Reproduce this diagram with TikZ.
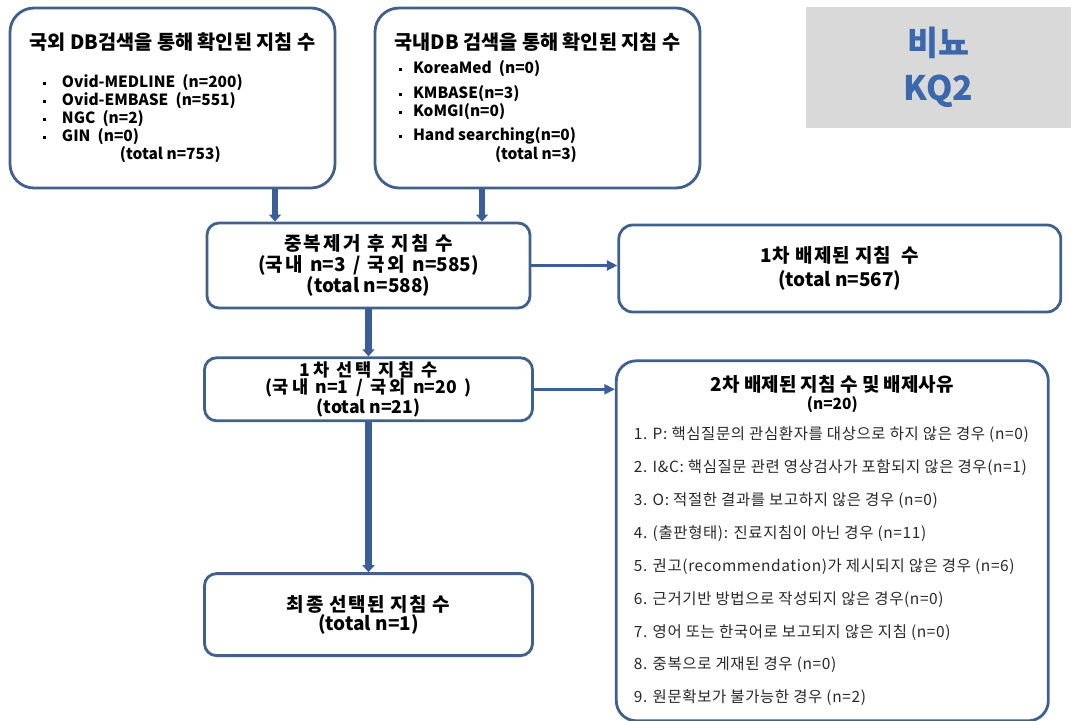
\documentclass[tikz,border=0pt]{standalone}
\usepackage{fontspec}
\setmainfont{Noto Sans CJK KR}
\usepackage{tikz}
\usetikzlibrary{positioning,arrows.meta}
\definecolor{borda}{RGB}{65,97,140}
\definecolor{azulseta}{RGB}{59,94,150}
\definecolor{azulrotulo}{RGB}{59,104,172}
\definecolor{cinza}{RGB}{217,217,217}
\definecolor{textoitem}{RGB}{40,40,40}
\newcommand{\marcador}{\raisebox{0.3ex}{\rule{2.2pt}{2.2pt}}}
\newcommand{\espacado}[2]{{\addfontfeature{LetterSpace=#1}#2}}
\newcommand{\palavras}[2]{{\spaceskip=#1em\relax #2}}
\tikzstyle{busca} = [rectangle, rounded corners=0.6cm, minimum width=8.125cm, minimum height=4.5cm, draw=borda, line width=2pt, fill=white, inner sep=0pt]
\tikzstyle{etapa} = [rectangle, rounded corners=0.3cm, draw=borda, line width=2pt, align=center, inner sep=0pt]
\tikzstyle{exclusao} = [rectangle, rounded corners=0.35cm, draw=borda, line width=2pt, inner sep=0pt]
\tikzstyle{seta} = [line width=4.3pt, draw=azulseta, -{Triangle[length=5pt,width=8.5pt]}]
\tikzstyle{setafina} = [line width=2pt, draw=azulseta, -{Triangle[length=7.5pt,width=7pt]}]

\begin{document}
\begin{tikzpicture}
        \useasboundingbox (0,0) rectangle (26.775,-18.025);
        % Rótulo da questão-chave
        \node (rotulo) [fill=cinza, minimum width=6.625cm, minimum height=3.025cm, align=center, text=azulrotulo, font=\fontsize{24}{32}\selectfont\bfseries] at (23.4625,-1.6875) {비뇨\\KQ2};
        % Buscas nas bases de dados
        \node (externo) [busca] at (4.3125,-2.45) {\parbox{7.275cm}{\lineskiplimit=-\maxdimen\parskip=0pt\bfseries
            {\centering\fontsize{14}{14}\selectfont 국외 DB검색을 통해 확인된 지침 수\par}
            \raggedright\fontsize{11}{12.8}\selectfont\vspace{14.2pt}
            \hspace*{0.4cm}\makebox[0.475cm][l]{\marcador}Ovid-MEDLINE~~(n=200)\par
            \hspace*{0.4cm}\makebox[0.475cm][l]{\marcador}Ovid-EMBASE~~(n=551)\par
            \hspace*{0.4cm}\makebox[0.475cm][l]{\marcador}NGC~~(n=2)\par
            \hspace*{0.4cm}\makebox[0.475cm][l]{\marcador}GIN~~(n=0)\par
            \hspace*{2.325cm}(total n=753)\par}};
        \node (interno) [busca] at (13.4375,-2.45) {\parbox{7.275cm}{\lineskiplimit=-\maxdimen\parskip=0pt\bfseries
            {\centering\fontsize{14}{14}\selectfont 국내DB 검색을 통해 확인된 지침 수\par}
            \raggedright\fontsize{11}{12.8}\selectfont\vspace{4.2pt}
            \hspace*{0.175cm}\makebox[0.35cm][l]{\marcador}KoreaMed~~(n=0)\par\vspace{5pt}
            \hspace*{0.175cm}\makebox[0.35cm][l]{\marcador}KMBASE(n=3)\par
            \hspace*{0.175cm}\makebox[0.35cm][l]{\marcador}KoMGI(n=0)\par\vspace{4.3pt}
            \hspace*{0.175cm}\makebox[0.35cm][l]{\marcador}Hand~searching(n=0)\par\vspace{0.7pt}
            \hspace*{2.575cm}(total n=3)\par}};
        % Etapas de seleção
        \node (duplicados) [etapa, minimum width=8.075cm, minimum height=2.125cm, font=\fontsize{13.5}{15}\selectfont\bfseries] at (9.2125,-6.6375) {\palavras{0.34}{\espacado{13}{중복제거 후 지침 수}}\\\palavras{0.38}{(\espacado{14}{국내} n=3 / \espacado{14}{국외} n=585)}\\(total n=588)};
        \node (excluidos1) [exclusao, minimum width=11.05cm, minimum height=2.175cm, align=center, font=\fontsize{13.5}{17.5}\selectfont\bfseries, right=2.15cm of duplicados, yshift=-0.075cm] {\espacado{5}{1차 배제된 지침~~수}\\(total n=567)};
        \node (selecionados1) [etapa, minimum width=8.2cm, minimum height=1.575cm, font=\fontsize{12.5}{12.4}\selectfont\bfseries, below=1.175cm of duplicados] {\palavras{0.4}{\espacado{18}{1차 선택 지침 수}}\\\palavras{0.42}{(\espacado{18}{국내} n=1 / \espacado{18}{국외} n=20 )}\\(total n=21)};
        \node (excluidos2) [exclusao, rounded corners=0.5cm, minimum width=10.8cm, minimum height=9cm, below right=0.075cm and 2.025cm of selecionados1.north east] {\parbox{9.925cm}{\lineskiplimit=-\maxdimen\parskip=0pt
            {\centering\fontsize{13.5}{12}\selectfont\bfseries 2차 배제된 지침 수 및 배제사유\par}
            {\centering\fontsize{11}{12.8}\selectfont\bfseries (n=20)\par}
            \raggedright\fontsize{11}{23.4}\selectfont\addfontfeature{LetterSpace=4}\color{textoitem}\vspace{-2.1pt}
            1. P: 핵심질문의 관심환자를 대상으로 하지 않은 경우 (n=0)\par
            2. I\&C: 핵심질문 관련 영상검사가 포함되지 않은 경우(n=1)\par
            3. O: 적절한 결과를 보고하지 않은 경우 (n=0)\par
            4. (출판형태): 진료지침이 아닌 경우 (n=11)\par
            5. 권고(recommendation)가 제시되지 않은 경우 (n=6)\par
            6. 근거기반 방법으로 작성되지 않은 경우(n=0)\par
            7. 영어 또는 한국어로 보고되지 않은 지침 (n=0)\par
            8. 중복으로 게재된 경우 (n=0)\par
            9. 원문확보가 불가능한 경우 (n=2)\par}};
        \node (final) [etapa, minimum width=8.2cm, minimum height=2.05cm, font=\fontsize{13.5}{13.5}\selectfont\bfseries, below=3.75cm of selecionados1] {\palavras{0.29}{\espacado{9}{최종 선택된 지침 수}}\\(total n=1)};
        % Conexões
        \coordinate (saidaext) at ([xshift=2.5625cm]externo.south);
        \coordinate (saidaint) at ([xshift=-1.3875cm]interno.south);
        \draw [seta] (saidaext) -- (saidaext |- duplicados.north);
        \draw [seta] (saidaint) -- (saidaint |- duplicados.north);
        \draw [seta] (duplicados.south) -- (selecionados1.north);
        \draw [seta] (selecionados1.south) -- (final.north);
        \draw [setafina] (duplicados.east) -- (duplicados.east -| excluidos1.west);
        \draw [setafina] (selecionados1.east) -- (selecionados1.east -| excluidos2.west);
\end{tikzpicture}
\end{document}
